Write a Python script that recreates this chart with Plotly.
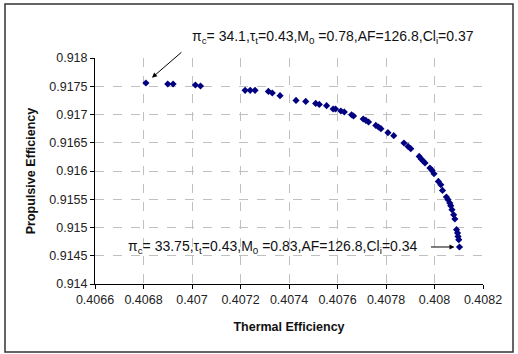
import plotly.graph_objects as go

thermal_eff = [0.406810, 0.406900, 0.406922, 0.407014, 0.407035,
               0.407219, 0.407240, 0.407260, 0.407315, 0.407331,
               0.407363, 0.407429, 0.407469, 0.407510, 0.407525,
               0.407555, 0.407582, 0.407592, 0.407614, 0.407628,
               0.407658, 0.407666, 0.407706, 0.407717, 0.407728,
               0.407758, 0.407769, 0.407779, 0.407808, 0.407832,
               0.407874, 0.407891, 0.407902, 0.407937, 0.407945,
               0.407953, 0.407961, 0.407981, 0.407990, 0.407998,
               0.408016, 0.408026, 0.408033, 0.408049, 0.408056,
               0.408063, 0.408067, 0.408072, 0.408079, 0.408084,
               0.408091, 0.408095, 0.408097, 0.408100, 0.408103]
propulsive_eff = [0.917558, 0.917540, 0.917540, 0.917522, 0.917504,
                  0.917427, 0.917427, 0.917427, 0.917409, 0.917381,
                  0.917333, 0.917250, 0.917232, 0.917196, 0.917179,
                  0.917156, 0.917097, 0.917097, 0.917062, 0.917044,
                  0.916996, 0.916973, 0.916920, 0.916896, 0.916867,
                  0.916807, 0.916779, 0.916749, 0.916678, 0.916625,
                  0.916496, 0.916435, 0.916395, 0.916258, 0.916212,
                  0.916177, 0.916142, 0.916053, 0.916011, 0.915952,
                  0.915816, 0.915757, 0.915657, 0.915540, 0.915492,
                  0.915434, 0.915386, 0.915315, 0.915226, 0.915150,
                  0.914961, 0.914903, 0.914842, 0.914784, 0.914655]

x_ticks = [0.4066, 0.4068, 0.4070, 0.4072, 0.4074, 0.4076, 0.4078, 0.4080, 0.4082]
x_labels = ["0.4066", "0.4068", "0.407", "0.4072", "0.4074", "0.4076", "0.4078", "0.408", "0.4082"]
y_ticks = [0.914, 0.9145, 0.915, 0.9155, 0.916, 0.9165, 0.917, 0.9175, 0.918]
y_labels = ["0.914", "0.9145", "0.915", "0.9155", "0.916", "0.9165", "0.917", "0.9175", "0.918"]

label_top = "π<sub>c</sub>= 34.1,τ<sub>t</sub>=0.43,M<sub>0</sub> =0.78,AF=126.8,Cl<sub>i</sub>=0.37"
label_bottom = "π<sub>c</sub>= 33.75,τ<sub>t</sub>=0.43,M<sub>0</sub> =0.83,AF=126.8,Cl<sub>i</sub>=0.34"

W, H = 518, 354
ML, MR, MT, MB = 95, 35, 58, 70
PW, PH = W - ML - MR, H - MT - MB

def px2paper(px, py):
    return (px - ML) / PW, (H - MB - py) / PH

FONT = "Arial, Liberation Sans, sans-serif"

fig = go.Figure()
fig.add_trace(go.Scatter(
    x=thermal_eff, y=propulsive_eff, mode="markers",
    marker=dict(symbol="diamond", size=5.5, color="#000080",
                line=dict(width=0)),
    showlegend=False, cliponaxis=False))

grid = dict(showgrid=True, gridcolor="#c0c0c0", griddash="dash", gridwidth=1)
fig.update_xaxes(range=[0.4066, 0.4082], tickvals=x_ticks, ticktext=x_labels,
                 showline=True, linecolor="black", linewidth=1,
                 ticks="outside", ticklen=4, tickcolor="black",
                 zeroline=False, mirror=False,
                 tickfont=dict(family=FONT, size=12.5, color="#222"),
                 title=dict(text="<b>Thermal Efficiency</b>",
                            font=dict(family=FONT, size=12.5, color="#111"),
                            standoff=16),
                 **grid)
fig.update_yaxes(range=[0.914, 0.918], tickvals=y_ticks, ticktext=y_labels,
                 showline=True, linecolor="black", linewidth=1,
                 ticks="outside", ticklen=4, tickcolor="black",
                 zeroline=False, mirror=False,
                 tickfont=dict(family=FONT, size=12.5, color="#222"),
                 title=dict(text="<b>Propulsive Efficiency</b>",
                            font=dict(family=FONT, size=12.5, color="#111"),
                            standoff=10),
                 **grid)

# arrows pointing at the extreme points
fig.add_annotation(x=thermal_eff[0], y=propulsive_eff[0], xref="x", yref="y",
                   text="", showarrow=True, ax=37, ay=-32, axref="pixel", ayref="pixel",
                   arrowhead=2, arrowsize=1, arrowwidth=1, arrowcolor="black", standoff=8)
fig.add_annotation(x=thermal_eff[-1], y=propulsive_eff[-1], xref="x", yref="y",
                   text="", showarrow=True, ax=-30, ay=0, axref="pixel", ayref="pixel",
                   arrowhead=2, arrowsize=1, arrowwidth=1, arrowcolor="black", standoff=5)

tx, ty = px2paper(190, 37)
fig.add_annotation(x=tx, y=ty, xref="paper", yref="paper", text=label_top,
                   showarrow=False, xanchor="left", yanchor="middle",
                   font=dict(family=FONT, size=14, color="#111"))
bx, by = px2paper(126, 247)
fig.add_annotation(x=bx, y=by, xref="paper", yref="paper", text=label_bottom,
                   showarrow=False, xanchor="left", yanchor="middle",
                   font=dict(family=FONT, size=14, color="#111"))

# outer chart border
x0, y0 = px2paper(5, 352)
x1, y1 = px2paper(513, 4)
fig.add_shape(type="rect", xref="paper", yref="paper", x0=x0, y0=y0, x1=x1, y1=y1,
              line=dict(color="#333333", width=1.5), fillcolor="rgba(0,0,0,0)", layer="below")

fig.update_layout(width=W, height=H, margin=dict(l=ML, r=MR, t=MT, b=MB),
                  paper_bgcolor="white", plot_bgcolor="white",
                  font=dict(family=FONT))

fig.write_html("out.html")
